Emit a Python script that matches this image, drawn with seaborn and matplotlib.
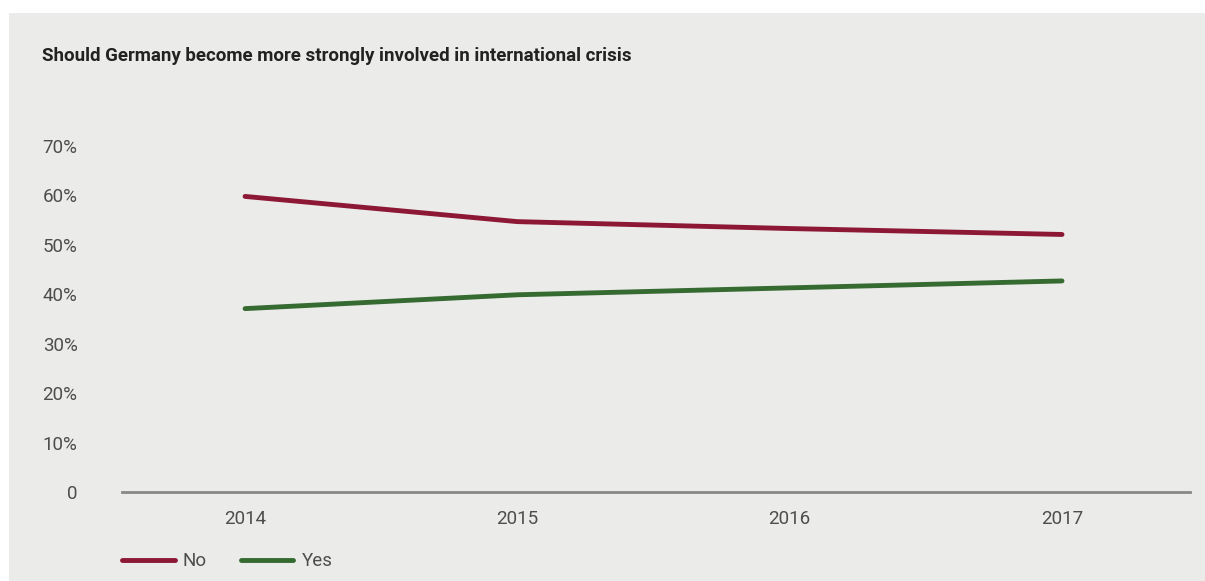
import pandas as pd
import matplotlib.pyplot as plt
import seaborn as sns
from matplotlib.patches import Rectangle

# Datos
years = [2014, 2015, 2016, 2017]
no_values = [59.8, 54.7, 53.3, 52.1]
yes_values = [37.1, 39.9, 41.3, 42.7]
series_names = ["No", "Yes"]
y_ticks = [0, 10, 20, 30, 40, 50, 60, 70]
y_tick_labels = ["0", "10%", "20%", "30%", "40%", "50%", "60%", "70%"]

df = pd.DataFrame({
    "year": years * 2,
    "value": no_values + yes_values,
    "answer": [series_names[0]] * len(years) + [series_names[1]] * len(years),
})

sns.set_style("white")
plt.rcParams["font.family"] = ["Roboto", "DejaVu Sans"]

bg = "#ebebe9"
fig = plt.figure(figsize=(12.05, 5.81), dpi=100)
fig.patch.set_facecolor("white")
fig.patches.append(Rectangle((9 / 1205, 0), 1 - 9 / 1205, 1 - 13 / 581,
                             transform=fig.transFigure, facecolor=bg,
                             edgecolor="none", zorder=-10))

ax = fig.add_axes([122 / 1205, 89 / 581, (1190 - 122) / 1205, 346 / 581])
ax.set_facecolor(bg)

sns.lineplot(data=df, x="year", y="value", hue="answer",
             palette={"No": "#8c1836", "Yes": "#356a30"},
             linewidth=3.5, solid_capstyle="round", ax=ax)

ax.set_xlim(2013.548, 2017.47)
ax.set_ylim(0, 70)
ax.set_xticks(years)
ax.set_xticklabels([str(y) for y in years])
ax.set_yticks(y_ticks)
ax.set_yticklabels(y_tick_labels)
ax.tick_params(axis="both", length=0, labelsize=13.5, labelcolor="#4d4d4d")
ax.tick_params(axis="x", pad=13)
ax.tick_params(axis="y", pad=32)
ax.set_xlabel("")
ax.set_ylabel("")

for s in ["top", "right", "left"]:
    ax.spines[s].set_visible(False)
ax.spines["bottom"].set_color("#888888")
ax.spines["bottom"].set_linewidth(2)

leg = ax.legend(loc="center left", bbox_to_anchor=(0, -0.2), ncol=2,
                frameon=False, fontsize=13.5, handlelength=2.8,
                columnspacing=1.8, handletextpad=0.45, borderpad=0,
                borderaxespad=0)
for t in leg.get_texts():
    t.set_color("#4d4d4d")
for h in leg.get_lines():
    h.set_linewidth(3.5)
    h.set_solid_capstyle("round")

fig.text(42 / 1205, 1 - 56 / 581, "Should Germany become more strongly involved in international crisis",
         fontsize=13.5, fontweight="bold", color="#222222", va="center", ha="left")

fig.savefig("out.png", dpi=100, facecolor=fig.get_facecolor())
